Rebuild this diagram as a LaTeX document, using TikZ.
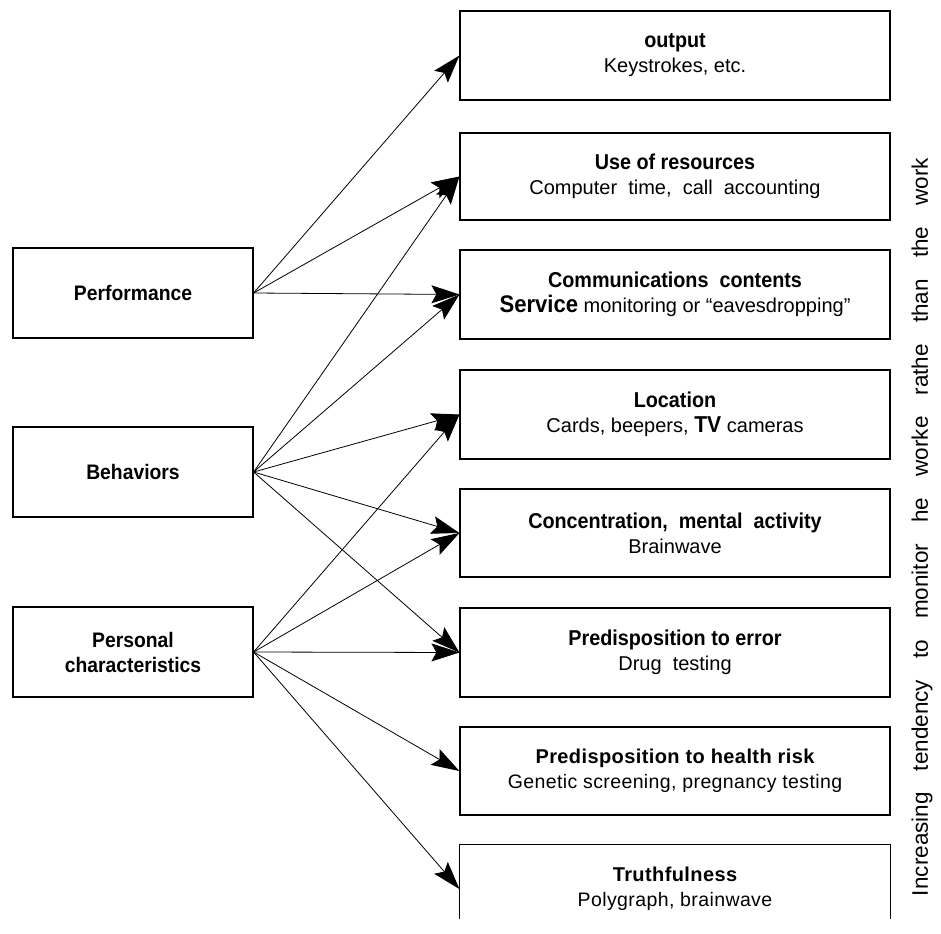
\documentclass[tikz,border=0pt]{standalone}
\usepackage{fontspec}
\setmainfont{Liberation Sans}
\newfontfamily\condfont[FakeStretch=0.92]{Liberation Sans}
\newfontfamily\widefont[LetterSpace=2]{Liberation Sans}
\usetikzlibrary{arrows.meta}
\newcommand\hdf{\condfont\bfseries\fontsize{21.5}{25}\selectfont}
\newcommand\rgf{\fontsize{20}{25}\selectfont}
\newcommand\whd{\widefont\bfseries\fontsize{20}{25}\selectfont}
\newcommand\wrg{\widefont\fontsize{19.5}{25}\selectfont}
\begin{document}
\begin{tikzpicture}[x=1pt,y=-1pt,
  lbox/.style={draw, line width=1.2pt, minimum width=240pt, minimum height=90pt, align=center, inner sep=0pt, font=\condfont\bfseries\fontsize{21}{25}\selectfont},
  rbox/.style={draw, line width=1.2pt, minimum width=430pt, minimum height=88pt, align=center, inner sep=0pt, font=\rgf},
  arr/.style={line width=0.8pt, -{Stealth[length=28pt,width=18pt,inset=5pt]}}]
\useasboundingbox (0,0) rectangle (941,933);

% left boxes
\node[lbox] (perf) at (133,293) {Performance};
\node[lbox] (beh)  at (133,472) {Behaviors};
\node[lbox] (pers) at (133,652) {Personal\\characteristics};

% right boxes
\node[rbox, minimum height=89pt] (out) at (675,55.5) {{\hdf output}\\Keystrokes, etc.};
\node[rbox, minimum height=87pt] (use) at (675,176.5) {{\hdf Use of resources}\\Computer\ \ time,\ \ call\ \ accounting};
\node[rbox, minimum height=89pt] (comm) at (675,294.5) {{\hdf Communications\ \ contents}\\{\condfont\bfseries\fontsize{24}{25}\selectfont Service} monitoring or “eavesdropping”};
\node[rbox, minimum height=89pt] (loc) at (675,414.5) {{\hdf Location}\\Cards, beepers, {\condfont\bfseries\fontsize{23}{25}\selectfont TV} cameras};
\node[rbox] (conc) at (675,533) {{\hdf Concentration,\ \ mental\ \ activity}\\Brainwave};
\node[rbox, minimum height=89pt] (err) at (675,652.5) {{\hdf Predisposition to error}\\Drug\ \ testing};
\node[rbox] (health) at (675,771) {{\whd Predisposition to health risk}\\{\wrg Genetic screening, pregnancy testing}};
\node[rbox, draw=none] (truth) at (675,889) {{\whd Truthfulness}\\{\wrg Polygraph, brainwave}};
\draw[line width=1.2pt] ([yshift=15pt]truth.south west) -- (truth.north west) -- (truth.north east) -- ([yshift=15pt]truth.south east);

% side label
\node[rotate=90, inner sep=0pt, font=\fontsize{22.5}{24}\selectfont] (side) at (922,527) {\makebox[738pt][s]{Increasing tendency to monitor he worke rathe than the work}};

% arrows from Performance
\draw[arr] (perf.east) -- (out.west);
\draw[arr] (perf.east) -- (use.west);
\draw[arr] (perf.east) -- (comm.west);
% arrows from Behaviors
\draw[arr] (beh.east) -- (use.west);
\draw[arr] (beh.east) -- (comm.west);
\draw[arr] (beh.east) -- (loc.west);
\draw[arr] (beh.east) -- (conc.west);
\draw[arr] (beh.east) -- (err.west);
% arrows from Personal characteristics
\draw[arr] (pers.east) -- (loc.west);
\draw[arr] (pers.east) -- (conc.west);
\draw[arr] (pers.east) -- (err.west);
\draw[arr] (pers.east) -- (health.west);
\draw[arr] (pers.east) -- (truth.west);
\end{tikzpicture}
\end{document}
